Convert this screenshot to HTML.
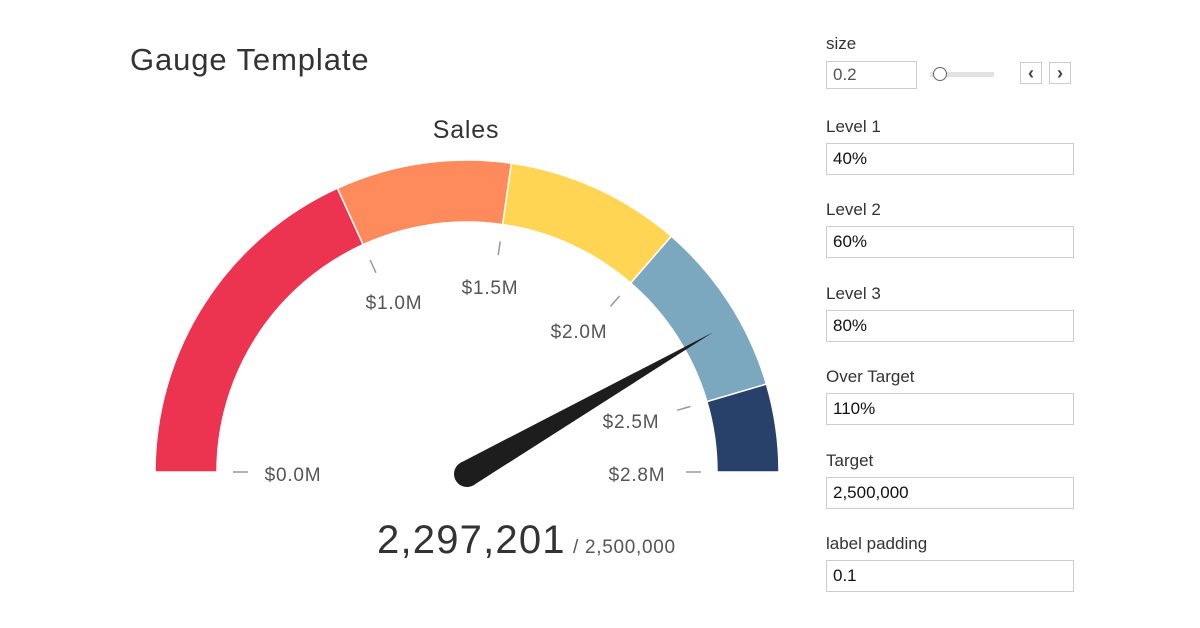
<!DOCTYPE html>
<html><head><meta charset="utf-8"><style>
body{margin:0;width:1200px;height:628px;background:#fff;font-family:"Liberation Sans",sans-serif;overflow:hidden;position:relative}
.t{position:absolute;color:#333}
.lab{position:absolute;left:826px;font-size:17px;color:#333;line-height:20px}
.inp{position:absolute;left:826px;border:1px solid #ccc;font-size:17px;color:#111;box-sizing:border-box;padding-left:6px;height:32px;width:248px;line-height:30px}
</style></head><body>
<div class="t" style="left:130px;top:42px;font-size:31px;letter-spacing:0.9px;color:#333">Gauge Template</div>
<svg width="800" height="628" style="position:absolute;left:0;top:0">
<g stroke="#fff" stroke-width="1.5">
<path d="M155,472 A312,312 0 0 1 337.4,188.2 L363.1,244.6 A250,250 0 0 0 217,472 Z" fill="#EC3350"/>
<path d="M337.4,188.2 A312,312 0 0 1 511.4,163.2 L502.6,224.6 A250,250 0 0 0 363.1,244.6 Z" fill="#FF8A5B"/>
<path d="M511.4,163.2 A312,312 0 0 1 671.3,236.2 L630.7,283.1 A250,250 0 0 0 502.6,224.6 Z" fill="#FFD553"/>
<path d="M671.3,236.2 A312,312 0 0 1 766.4,384.1 L706.9,401.6 A250,250 0 0 0 630.7,283.1 Z" fill="#7BA7BF"/>
<path d="M766.4,384.1 A312,312 0 0 1 779,472 L717,472 A250,250 0 0 0 706.9,401.6 Z" fill="#27416A"/>
</g>
<g stroke="#999" stroke-width="1.5">
<line x1="233" y1="472" x2="248" y2="472"/>
<line x1="376" y1="272.8" x2="370.2" y2="260.1"/>
<line x1="498.2" y1="255.2" x2="500.2" y2="241.4"/>
<line x1="610.4" y1="306.5" x2="619.6" y2="295.9"/>
<line x1="677.1" y1="410.3" x2="690.6" y2="406.4"/>
<line x1="686" y1="472" x2="701" y2="472"/>
</g>
<g font-family="Liberation Sans, sans-serif" font-size="19" letter-spacing="0.8" fill="#555" text-anchor="middle">
<text x="293" y="481">$0.0M</text>
<text x="394" y="309">$1.0M</text>
<text x="490" y="294">$1.5M</text>
<text x="579" y="338">$2.0M</text>
<text x="631" y="428">$2.5M</text>
<text x="637" y="481">$2.8M</text>
<text x="466" y="138" font-size="25" fill="#333">Sales</text>
</g>
<circle cx="467" cy="474" r="13" fill="#1d1d1d"/>
<polygon points="473.4,485.3 713.1,332.2 460.6,462.7" fill="#1d1d1d"/>
<text x="377" y="553" font-family="Liberation Sans, sans-serif" font-size="40" letter-spacing="1.2" fill="#333">2,297,201</text>
<text x="573" y="553" font-family="Liberation Sans, sans-serif" font-size="19" letter-spacing="0.7" fill="#555">/ 2,500,000</text>
</svg>
<div class="lab" style="top:34px">size</div>
<div class="inp" style="top:61px;width:91px;height:28px;line-height:26px;color:#555">0.2</div>
<div style="position:absolute;left:930px;top:72px;width:64px;height:5px;background:#e2e2e2"></div>
<div style="position:absolute;left:933px;top:67px;width:12px;height:12px;border:1px solid #666;border-radius:50%;background:#fff"></div>
<div style="position:absolute;left:1020px;top:62px;width:22px;height:22px;border:1px solid #ccc;box-sizing:border-box;font-size:18px;font-weight:bold;color:#444;text-align:center;line-height:20px">‹</div>
<div style="position:absolute;left:1049px;top:62px;width:22px;height:22px;border:1px solid #ccc;box-sizing:border-box;font-size:18px;font-weight:bold;color:#444;text-align:center;line-height:20px">›</div>
<div class="lab" style="top:117px">Level 1</div><div class="inp" style="top:143px">40%</div>
<div class="lab" style="top:200px">Level 2</div><div class="inp" style="top:226px">60%</div>
<div class="lab" style="top:284px">Level 3</div><div class="inp" style="top:310px">80%</div>
<div class="lab" style="top:367px">Over Target</div><div class="inp" style="top:393px">110%</div>
<div class="lab" style="top:451px">Target</div><div class="inp" style="top:477px">2,500,000</div>
<div class="lab" style="top:534px">label padding</div><div class="inp" style="top:560px">0.1</div>
</body></html>
